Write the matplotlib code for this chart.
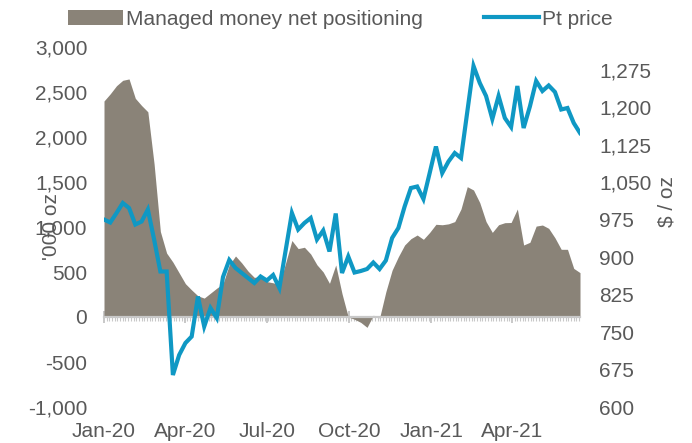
import numpy as np
import pandas as pd
import matplotlib
matplotlib.use("Agg")
import matplotlib.pyplot as plt
from matplotlib.ticker import FuncFormatter, FixedLocator
from matplotlib.patches import Patch
from matplotlib.lines import Line2D

plt.rcParams["font.family"] = ["Liberation Sans", "DejaVu Sans"]

# ---------------- data ----------------
start_date = "2020-01-03"
n_weeks = 77
dates = pd.date_range(start_date, periods=n_weeks, freq="7D")

managed_money = [
    2400, 2480, 2570, 2630, 2645, 2430, 2350, 2280, 1700, 950,
    710, 610, 490, 370, 300, 235, 210, 265, 320, 370,
    580, 678, 600, 510, 440, 448, 393, 380, 360, 600,
    850, 760, 775, 700, 580, 500, 374, 578, 260, 0,
    -25, -60, -115, 20, -10, 280, 520, 670, 800, 870,
    911, 863, 940, 1030, 1025, 1035, 1060, 1200, 1448, 1411,
    1270, 1060, 940, 1025, 1048, 1050, 1200, 800, 830, 1010,
    1022, 985, 880, 752, 752, 540, 493,
]

pt_price = [
    975, 969, 988, 1008, 998, 965, 971, 995, 935, 871,
    871, 664, 704, 728, 741, 821, 761, 798, 778, 860,
    894, 878, 868, 858, 848, 861, 853, 864, 838, 913,
    988, 955, 968, 978, 935, 953, 911, 987, 868, 901,
    869, 872, 876, 889, 876, 893, 938, 958, 1001, 1038,
    1041, 1016, 1068, 1121, 1068, 1091, 1108, 1098, 1190, 1282,
    1248, 1222, 1176, 1222, 1178, 1160, 1242, 1158, 1201, 1252,
    1232, 1243, 1230, 1195, 1198, 1168, 1148,
]

left_ticks = [-1000, -500, 0, 500, 1000, 1500, 2000, 2500, 3000]
right_ticks = [600, 675, 750, 825, 900, 975, 1050, 1125, 1200, 1275]

series_names = ["Managed money net positioning", "Pt price"]
left_title = "'000 oz"
right_title = "$ / oz"

# ---------------- style ----------------
area_color = "#8a8378"
line_color = "#0f98c4"
text_color = "#595959"
axis_color = "#c8c8c8"
fs = 15

fig = plt.figure(figsize=(6.92, 4.43), dpi=100)
ax = fig.add_axes([104 / 692, 1 - 407 / 443, (580 - 104) / 692, 360 / 443])

ax.fill_between(dates, 0, managed_money, color=area_color, linewidth=0, zorder=2)
ax.set_ylim(-1000, 3000)
ax.set_xlim(dates[0], dates[-1])

for s in ["top", "right", "left"]:
    ax.spines[s].set_visible(False)
ax.spines["bottom"].set_position(("data", 0))
ax.spines["bottom"].set_color(axis_color)
ax.spines["bottom"].set_linewidth(1.6)
ax.spines["bottom"].set_zorder(3)

major = [pd.Timestamp(start_date) + pd.DateOffset(months=3 * i) for i in range(6)]
minor = pd.date_range(start_date, dates[-1], freq="3D")
ax.xaxis.set_major_locator(FixedLocator([matplotlib.dates.date2num(d) for d in major]))
ax.xaxis.set_minor_locator(FixedLocator(matplotlib.dates.date2num(minor)))
ax.tick_params(axis="x", which="major", direction="inout", length=9, width=1.4,
               color=axis_color, labelbottom=False)
ax.tick_params(axis="x", which="minor", direction="out", length=3, width=0.8,
               color=axis_color)

ax.set_yticks(left_ticks)
ax.yaxis.set_major_formatter(FuncFormatter(lambda v, p: f"{v:,.0f}"))
ax.tick_params(axis="y", length=0, pad=12, labelsize=fs, labelcolor=text_color)
ax.set_ylabel(left_title, fontsize=fs, color=text_color)
ax.yaxis.set_label_coords(-0.09, 0.5)

# x labels at the bottom of the plot area
sec = ax.secondary_xaxis("bottom")
sec.set_xticks([matplotlib.dates.date2num(d) for d in major])
sec.set_xticklabels([d.strftime("%b-%y") for d in major])
sec.tick_params(length=0, pad=11, labelsize=fs, labelcolor=text_color)
sec.spines["bottom"].set_visible(False)

# right axis
ax2 = ax.twinx()
ax2.plot(dates, pt_price, color=line_color, linewidth=3.0, zorder=4,
         solid_joinstyle="miter")
ax2.set_ylim(600, 1320)
for s in ["top", "right", "left", "bottom"]:
    ax2.spines[s].set_visible(False)
ax2.set_yticks(right_ticks)
ax2.yaxis.set_major_formatter(FuncFormatter(lambda v, p: f"{v:,.0f}"))
ax2.tick_params(axis="y", length=0, pad=14, labelsize=fs, labelcolor=text_color)
ax2.set_ylabel(right_title, fontsize=fs, color=text_color, rotation=90)
ax2.yaxis.set_label_coords(1.162, 0.572)

handles = [Patch(facecolor=area_color, edgecolor="none"),
           Line2D([0], [0], color=line_color, linewidth=3.0)]
fig.legend(handles, series_names, loc="center", bbox_to_anchor=(0.492, 0.957),
           ncol=2, frameon=False, fontsize=fs, handlelength=2.64,
           handletextpad=0.12, columnspacing=2.95, borderpad=0,
           labelcolor=text_color)

fig.savefig("out.png", dpi=100)
